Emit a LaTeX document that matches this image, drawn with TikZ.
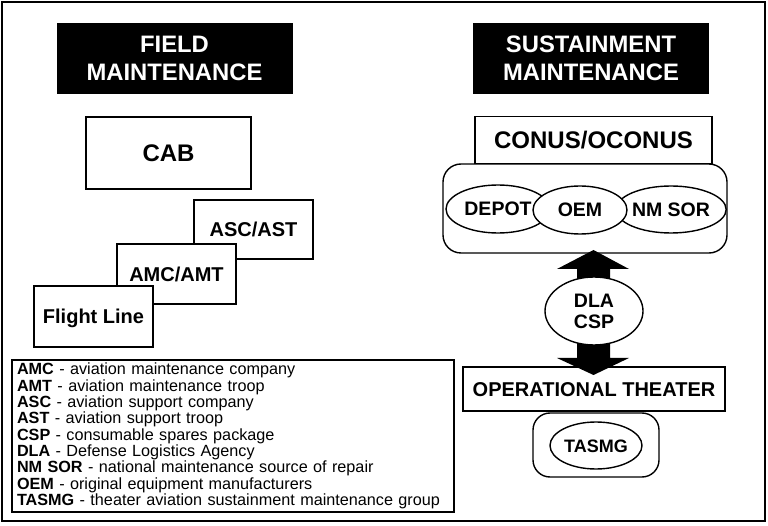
\documentclass[tikz,border=0pt]{standalone}
\usepackage{fontspec}
\setmainfont{Liberation Sans}
\usetikzlibrary{shapes.geometric}
\begin{document}
\begin{tikzpicture}[x=1pt,y=-1pt,line width=1.4pt,
  every node/.style={inner sep=0pt,outer sep=0pt},
  head/.style={fill=black,text=white,font=\fontsize{23.8}{28}\selectfont\bfseries,align=center,minimum width=236,minimum height=71},
  box/.style={draw,fill=white,font=\fontsize{20}{24}\selectfont\bfseries,text height=14.3pt,text depth=0pt},
  bigbox/.style={box,font=\fontsize{24}{28}\selectfont\bfseries,text height=17.2pt},
  ell/.style={ellipse,draw,fill=white,font=\fontsize{19.5}{21}\selectfont\bfseries,text height=14pt,text depth=0pt},
  holder/.style={draw,fill=white,rounded corners=17pt}
]
\useasboundingbox (0,0) rectangle (768,526);
\node[draw,minimum width=763,minimum height=519] (frame) at (383.5,261.5) {};

% field maintenance
\node[head] (fh) at (174.5,58.5) {FIELD\\MAINTENANCE};
\node[bigbox,minimum width=165,minimum height=72] (cab) at (168.5,153) {CAB};
\node[box,minimum width=119,minimum height=59] (asc) at (253.5,229.5) {ASC/AST};
\node[box,minimum width=119,minimum height=60] (amc) at (176.5,274) {AMC/AMT};
\node[box,minimum width=119,minimum height=61] (fl) at (93.5,316.5) {Flight Line};

% legend
\node[draw,minimum width=442,minimum height=152,text width=432,align=left,
  font=\fontsize{16.2}{16.3}\selectfont] (leg) at (233,436) {%
\textbf{AMC} - aviation maintenance company\\
\textbf{AMT} - aviation maintenance troop\\
\textbf{ASC} - aviation support company\\
\textbf{AST} - aviation support troop\\
\textbf{CSP} - consumable spares package\\
\textbf{DLA} - Defense Logistics Agency\\
\textbf{NM SOR} - national maintenance source of repair\\
\textbf{OEM} - original equipment manufacturers\\
\textbf{TASMG} - theater aviation sustainment maintenance group};

% sustainment maintenance
\node[head] (sh) at (591,58.5) {SUSTAINMENT\\MAINTENANCE};
\node[holder,rounded corners=18pt,minimum width=284,minimum height=89] (cont) at (585,208.5) {};
\node[bigbox,minimum width=237,minimum height=47] (conus) at (593.5,140) {CONUS/OCONUS};
\node[ell,minimum width=104,minimum height=48] (depot) at (498,209) {DEPOT};
\node[ell,minimum width=104,minimum height=47] (nmsor) at (671,209.5) {NM SOR};
\node[ell,minimum width=94,minimum height=48] (oem) at (580,210) {OEM};

\node[box,minimum width=262,minimum height=44] (ot) at (594,389) {OPERATIONAL THEATER};
\node[holder,minimum width=126,minimum height=64] (tc) at (596,445) {};
\node[ell,minimum width=92,minimum height=47,font=\fontsize{18}{21}\selectfont\bfseries,text height=13pt] (tasmg) at (596,445.5) {TASMG};

% double block arrow
\coordinate (up) at (593.5,250);
\coordinate (dn) at (593.5,375);
\fill (up) -- ++(35.5,19) -- ++(-19,0) -- ++(0,89) -- ++(19,0) -- (dn)
  -- ++(-36.5,-17) -- ++(20,0) -- ++(0,-89) -- ++(-20,0) -- cycle;
\node[ell,minimum width=98,minimum height=68,align=center,text height=,text depth=] (dla) at (594,311) {DLA\\CSP};
\end{tikzpicture}
\end{document}
